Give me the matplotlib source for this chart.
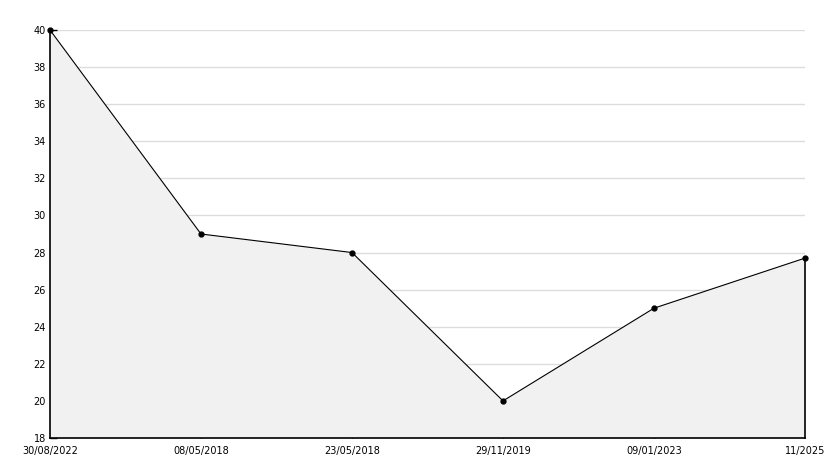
import matplotlib
matplotlib.use("Agg")
import matplotlib.pyplot as plt
from matplotlib.ticker import MultipleLocator

labels = ["30/08/2022", "08/05/2018", "23/05/2018", "29/11/2019", "09/01/2023", "11/2025"]
values = [40, 29, 28, 20, 25, 27.7]

fig = plt.figure(figsize=(8.34, 4.68), dpi=100)
ax = fig.add_axes([50/834, 30/468, 755/834, 408/468])
x = list(range(len(values)))

ax.set_xlim(0, len(values) - 1)
ax.set_ylim(18, 40)
ax.yaxis.grid(True, color="#dddddd", linewidth=1)
ax.set_axisbelow(True)
ax.fill_between(x, values, 18, facecolor="#f1f1f1", edgecolor="none", zorder=1)
ax.plot([x[-1], x[-1]], [18, values[-1]], color="black", linewidth=1.2, zorder=2, clip_on=False)
ax.plot(x, values, color="black", linewidth=0.8, marker="o", markersize=3.5, zorder=3, clip_on=False)

ax.set_xticks(x)
ax.set_xticklabels(labels)
ax.yaxis.set_major_locator(MultipleLocator(2))
ax.yaxis.set_minor_locator(MultipleLocator(1))
ax.tick_params(axis="y", which="major", direction="in", length=5, width=1, labelsize=7, pad=3)
ax.tick_params(axis="y", which="minor", direction="in", length=4, width=1)
ax.tick_params(axis="x", direction="in", length=6, width=1, labelsize=7, pad=6)
xt = ax.xaxis.get_major_ticks()
xt[0].tick1line.set_visible(False)
xt[-1].tick1line.set_visible(False)
for s in ["top", "right"]:
    ax.spines[s].set_visible(False)
for s in ["left", "bottom"]:
    ax.spines[s].set_linewidth(1.2)

fig.savefig("out.png", dpi=100)
